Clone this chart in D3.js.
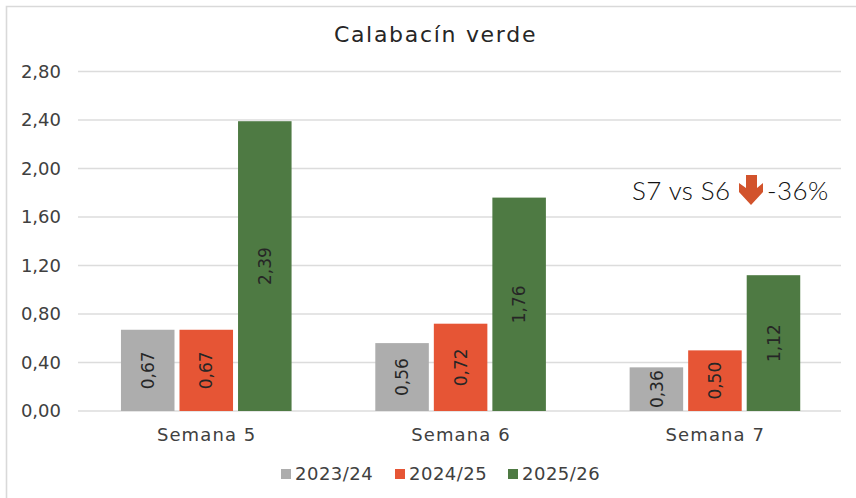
<!DOCTYPE html>
<html><head><meta charset="utf-8">
<script src="https://cdn.jsdelivr.net/npm/d3@7/dist/d3.min.js"></script>
<style>html,body{margin:0;padding:0;background:#fff;overflow:hidden}svg{display:block}text{font-family:"DejaVu Sans",sans-serif}</style>
</head><body><svg id="c" width="856" height="498"></svg>
<script>
const weeks = ["Semana 5","Semana 6","Semana 7"];
const seasons = ["2023/24","2024/25","2025/26"];
const s2324 = [0.67,0.56,0.36];
const s2425 = [0.67,0.72,0.50];
const s2526 = [2.39,1.76,1.12];
const colors = ["#adadad","#e65535","#4e7a43"];
const yTicks = [0,0.4,0.8,1.2,1.6,2.0,2.4,2.8];
const title = "Calabacín verde";
const noteLeft = "S7 vs S6";
const noteRight = "-36%";

const fmt = v => d3.format(".2f")(v).replace(".",",");
const svg = d3.select("#c");
const y = d3.scaleLinear().domain([0,2.8]).range([411,71.5]);
const x0 = d3.scaleBand().domain(weeks).range([79.5,842.5]);
const c = x0.bandwidth()/2;
const x1 = d3.scaleBand().domain(seasons).range([c-85.7,c+84.9]).paddingInner(0.0855);
const series = [s2324,s2425,s2526];

svg.append("path").attr("d","M856,6.5H6.5V498").attr("fill","none").attr("stroke","#d9d9d9").attr("stroke-width",1.6);

svg.append("g").selectAll("line").data(yTicks).join("line")
  .attr("x1",78).attr("x2",841).attr("y1",d=>y(d)).attr("y2",d=>y(d))
  .attr("stroke","#dcdcdc").attr("stroke-width",1.4);

svg.append("g").selectAll("text").data(yTicks).join("text")
  .attr("x",61).attr("y",d=>y(d)).attr("dy","0.36em").attr("text-anchor","end")
  .attr("font-size",18).attr("fill","#404040").text(fmt);

seasons.forEach((s,i)=>{
  const g = svg.append("g");
  g.selectAll("rect").data(weeks).join("rect")
    .attr("x",w=>x0(w)+x1(s)).attr("width",x1.bandwidth())
    .attr("y",(w,j)=>y(series[i][j])).attr("height",(w,j)=>y(0)-y(series[i][j]))
    .attr("fill",colors[i]);
  g.selectAll("text").data(weeks).join("text")
    .attr("transform",(w,j)=>`translate(${x0(w)+x1(s)+x1.bandwidth()/2},${(y(series[i][j])+y(0))/2}) rotate(-90)`)
    .attr("text-anchor","middle").attr("dy","0.36em")
    .attr("font-size",17).attr("fill","#262626")
    .text((w,j)=>fmt(series[i][j]));
});

svg.append("g").selectAll("text").data(weeks).join("text")
  .attr("x",w=>x0(w)+x0.bandwidth()/2).attr("y",435).attr("dy","0.36em").attr("text-anchor","middle")
  .attr("font-size",18).attr("letter-spacing",1.1).attr("fill","#404040").text(d=>d);

svg.append("text").attr("x",435.5).attr("y",34).attr("dy","0.36em").attr("text-anchor","middle")
  .attr("font-size",22).attr("letter-spacing",1.7).attr("fill","#262626").text(title);

const legX = [281,395,508];
seasons.forEach((s,i)=>{
  svg.append("rect").attr("x",legX[i]).attr("y",469).attr("width",10).attr("height",10).attr("fill",colors[i]);
  svg.append("text").attr("x",legX[i]+14).attr("y",474).attr("dy","0.36em")
    .attr("font-size",18).attr("letter-spacing",0.5).attr("fill","#404040").text(s);
});

const noteFont = 'Lato,"Open Sans",sans-serif';
svg.append("text").attr("x",632).attr("y",191).attr("dy","0.36em").attr("font-size",26).attr("font-weight",300)
  .attr("letter-spacing",0.4).style("font-family",noteFont).attr("fill","#111").text(noteLeft);
svg.append("text").attr("x",767).attr("y",191).attr("dy","0.36em").attr("font-size",26).attr("font-weight",300)
  .attr("letter-spacing",0.4).style("font-family",noteFont).attr("fill","#111").text(noteRight);
svg.append("path").attr("d","M746,175H757V188L763,183V192L751,205L739,192V183L746,188Z").attr("fill","#d2532c");
</script></body></html>
